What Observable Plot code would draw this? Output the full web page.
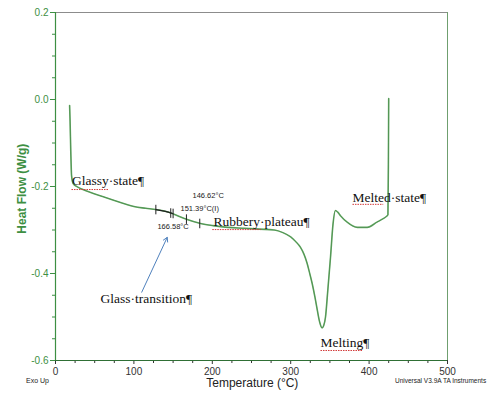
<!DOCTYPE html>
<html>
<head>
<meta charset="utf-8">
<script src="https://cdn.jsdelivr.net/npm/d3@7"></script>
<script src="https://cdn.jsdelivr.net/npm/@observablehq/plot@0.6"></script>
<style>
  html, body { margin: 0; padding: 0; background: #fff; }
  #chart { width: 487px; height: 394px; }
</style>
</head>
<body>
<div id="chart"></div>
<script>
// DSC curve: temperature (°C) and heat flow (W/g)
const temperature = [18, 18.6, 19.5, 20.5, 22.5, 28, 35, 45, 60, 75, 90, 100, 115, 128, 140, 149, 158, 168, 185, 201, 220, 240, 260, 279, 290, 300, 306, 312.5, 317, 321, 324, 327.4, 331, 334, 337, 340, 342, 344.4, 347.3, 350.8, 354, 357, 360, 363.5, 372, 385, 397.6, 410, 418, 422, 424, 424.6, 425];
const heatFlow    = [-0.014, -0.05, -0.12, -0.175, -0.193, -0.201, -0.207, -0.214, -0.223, -0.232, -0.241, -0.246, -0.25, -0.253, -0.257, -0.262, -0.269, -0.276, -0.285, -0.29, -0.294, -0.296, -0.298, -0.3, -0.306, -0.316, -0.326, -0.34, -0.356, -0.377, -0.398, -0.423, -0.455, -0.485, -0.512, -0.525, -0.52, -0.5, -0.439, -0.362, -0.286, -0.255, -0.259, -0.267, -0.282, -0.294, -0.294, -0.282, -0.274, -0.269, -0.265, -0.15, 0.002];

// glass transition analysis markers (°C)
const markerTemps = [128, 147, 150, 167, 184];
const markerFlows = [-0.253, -0.261, -0.262, -0.275, -0.285];

const xTicks = [0, 100, 200, 300, 400, 500];
const xMinor = [25, 50, 75, 125, 150, 175, 225, 250, 275, 325, 350, 375, 425, 450, 475];
const yTicks = [0.2, 0.0, -0.2, -0.4, -0.6];
const yMinor = [0.15, 0.1, 0.05, -0.05, -0.1, -0.15, -0.25, -0.3, -0.35, -0.45, -0.5, -0.55];

// annotations
const labelTexts = ["Glassy·state¶", "Rubbery·plateau¶", "Melted·state¶", "Melting¶", "Glass·transition¶"];
const labelX     = [21, 201.5, 378.8, 338, 57.4];
const labelY     = [-0.186, -0.280, -0.225, -0.559, -0.457];

const tempTexts = ["146.62°C", "151.39°C(I)", "166.58°C"];
const tempX     = [174.7, 159.4, 130];
const tempY     = [-0.221, -0.251, -0.292];

// red spell-check underlines (start, end, level)
const ulX1 = [20.4, 200, 378.8, 338];
const ulX2 = [68, 262, 418, 392];
const ulY  = [-0.207, -0.299, -0.241, -0.577];

const curve = temperature.map((t, i) => ({t, h: heatFlow[i]}));
const markers = markerTemps.map((t, i) => ({t, h: markerFlows[i]}));
const labels = labelTexts.map((s, i) => ({s, x: labelX[i], y: labelY[i]}));
const temps = tempTexts.map((s, i) => ({s, x: tempX[i], y: tempY[i]}));
const unders = ulX1.map((x1, i) => ({x1, x2: ulX2[i], y: ulY[i]}));
const tangent = curve.filter(d => d.t >= 128 && d.t <= 150);

const green = "#3d8f43";
const sans = "'Liberation Sans Narrow', 'Arial Narrow', 'Liberation Sans', Arial, sans-serif";

const chart = Plot.plot({
  width: 487,
  height: 394,
  marginLeft: 55,
  marginRight: 40,
  marginTop: 12,
  marginBottom: 34,
  x: {domain: [0, 500]},
  y: {domain: [-0.6, 0.2]},
  style: {background: "#fff", fontFamily: sans},
  marks: [
    // frame
    Plot.ruleY([0.2], {stroke: "#8c8c8c"}),
    Plot.ruleX([500], {stroke: "#6f9f6f"}),
    // axes
    Plot.axisY(yMinor, {tickSize: 3, tickFormat: () => "", color: green, label: null}),
    Plot.axisY(yTicks, {tickSize: 5, tickPadding: 2, tickFormat: d => d.toFixed(1), color: green, fontSize: 10, label: null}),
    Plot.axisX(xMinor, {tickSize: 3, tickFormat: () => "", color: "#333", label: null}),
    Plot.axisX(xTicks, {tickSize: 4, tickPadding: 3, tickFormat: d => String(d), color: "#333", fontSize: 10, label: null}),
    Plot.ruleX([0], {stroke: green, strokeWidth: 1.2}),
    Plot.ruleY([-0.6], {stroke: "#2f6f35", strokeWidth: 1.2}),
    // axis titles and notes
    Plot.text(["Heat Flow (W/g)"], {x: -42, y: -0.205, rotate: -90, fill: green, fontSize: 12, fontWeight: "bold"}),
    Plot.text(["Temperature (°C)"], {x: 251, y: -0.653, fill: "#222", fontSize: 12}),
    Plot.text(["Exo Up"], {x: -23, y: -0.646, fill: "#222", fontSize: 7}),
    Plot.text(["Universal V3.9A TA Instruments"], {x: 433, y: -0.648, textAnchor: "start", fill: "#222", fontSize: 6.5}),
    // DSC curve
    Plot.line(curve, {x: "t", y: "h", stroke: "#6aad6a", strokeWidth: 1.6, curve: "monotone-x"}),
    Plot.line(curve, {x: "t", y: "h", stroke: "#2d6e33", strokeWidth: 0.5, strokeOpacity: 0.8, curve: "monotone-x"}),
    Plot.line(tangent, {x: "t", y: "h", stroke: "#222", strokeWidth: 1.2, curve: "monotone-x"}),
    Plot.link(markers, {x1: "t", x2: "t", y1: d => d.h + 0.011, y2: d => d.h - 0.011, stroke: "#222", strokeWidth: 1}),
    // annotations
    Plot.text(temps, {x: "x", y: "y", text: "s", textAnchor: "start", fill: "#222", fontSize: 7.5}),
    Plot.link(unders, {x1: "x1", x2: "x2", y1: "y", y2: "y", stroke: "#d23a3a", strokeWidth: 1, strokeDasharray: "1.5,1"}),
    Plot.text(labels, {x: "x", y: "y", text: "s", textAnchor: "start", fill: "#111", fontSize: 13.5, fontFamily: "'Liberation Serif', 'Times New Roman', serif"}),
    Plot.arrow([{x1: 110, y1: -0.443, x2: 142.5, y2: -0.317}], {x1: "x1", y1: "y1", x2: "x2", y2: "y2", stroke: "#4f81bd", strokeWidth: 1, headLength: 7})
  ]
});

document.getElementById("chart").appendChild(chart);
</script>
</body>
</html>
